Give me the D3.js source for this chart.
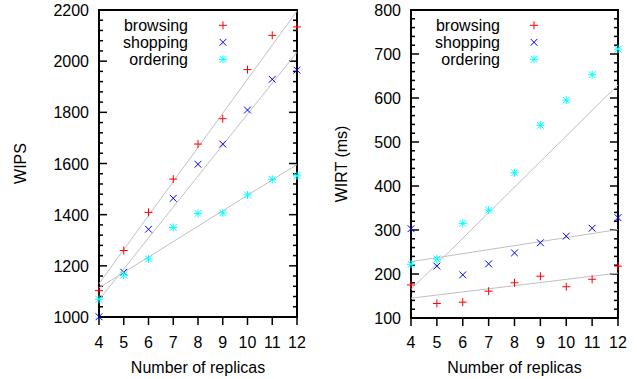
<!DOCTYPE html>
<html>
<head>
<meta charset="utf-8">
<script src="https://cdn.jsdelivr.net/npm/d3@7"></script>
<style>
  body { margin: 0; background: #fff; }
  svg text { font-family: "Liberation Sans", Arial, sans-serif; font-size: 16px; fill: #000; }
</style>
</head>
<body>
<svg id="chart" width="637" height="379"></svg>
<script>
// x values
const replicas = [4, 5, 6, 7, 8, 9, 10, 11, 12];
const seriesNames = ["browsing", "shopping", "ordering"];

// WIPS panel
const wipsBrowsing = [1103, 1260, 1409, 1539, 1676, 1775, 1967, 2101, 2134];
const wipsShopping = [1001, 1175, 1343, 1464, 1597, 1676, 1809, 1929, 1965];
const wipsOrdering = [1069, 1164, 1227, 1350, 1405, 1407, 1477, 1538, 1552];
// fit lines, value at 4 and at 12 replicas (browsing, shopping, ordering)
const wipsFitAt4 = [1130, 1067, 1114];
const wipsFitAt12 = [2196, 2035, 1596];
const wipsTicks = [1000, 1200, 1400, 1600, 1800, 2000, 2200];

// WIRT panel
const wirtBrowsing = [175, 133, 136, 161, 180, 195, 171, 188, 218];
const wirtShopping = [303, 218, 198, 223, 248, 271, 286, 304, 328];
const wirtOrdering = [222, 234, 315, 345, 430, 538, 595, 653, 711];
const wirtFitAt4 = [145, 228, 165];
const wirtFitAt12 = [202, 301, 630];
const wirtTicks = [100, 200, 300, 400, 500, 600, 700, 800];

const colors = ["#ff0000", "#0000ff", "#00ffff"];
const svg = d3.select("#chart");

// marker shapes: + , x , *
function markerPath(type, s) {
  const plus = `M${-s},0H${s}M0,${-s}V${s}`;
  const d = s * 0.85;
  const cross = `M${-d},${-d}L${d},${d}M${-d},${d}L${d},${-d}`;
  if (type === 0) return plus;
  if (type === 1) return cross;
  return plus + cross;
}

function drawPanel(opt) {
  const g = svg.append("g");
  const x = d3.scaleLinear().domain([4, 12]).range([opt.left, opt.right]);
  const y = d3.scaleLinear().domain(opt.domain).range([opt.bottom, opt.top]);

  // y minor ticks (inward, both sides)
  const minor = d3.range(opt.domain[0], opt.domain[1] + 0.01, opt.minorStep);
  minor.forEach(v => {
    const major = opt.ticks.includes(v);
    const len = major ? 8 : 4;
    g.append("line").attr("x1", opt.left).attr("x2", opt.left + len)
      .attr("y1", y(v)).attr("y2", y(v)).attr("stroke", "#000").attr("stroke-width", 1.5);
    g.append("line").attr("x1", opt.right).attr("x2", opt.right - len)
      .attr("y1", y(v)).attr("y2", y(v)).attr("stroke", "#000").attr("stroke-width", 1.5);
  });

  // y tick labels
  g.selectAll(".ylab").data(opt.ticks).join("text")
    .attr("x", opt.left - 10).attr("y", d => y(d) + 6)
    .attr("text-anchor", "end").text(d => d);

  // x ticks, outward below the axis
  g.selectAll(".xtick").data(replicas).join("line")
    .attr("x1", d => x(d)).attr("x2", d => x(d))
    .attr("y1", opt.bottom).attr("y2", opt.bottom + 8)
    .attr("stroke", "#000").attr("stroke-width", 1.5);
  g.selectAll(".xlab").data(replicas).join("text")
    .attr("x", d => x(d)).attr("y", 348)
    .attr("text-anchor", "middle").text(d => d);

  // frame
  g.append("rect").attr("x", opt.left).attr("y", opt.top)
    .attr("width", opt.right - opt.left).attr("height", opt.bottom - opt.top)
    .attr("fill", "none").attr("stroke", "#000").attr("stroke-width", 2);

  // titles
  g.append("text").attr("x", (opt.left + opt.right) / 2).attr("y", 373)
    .attr("text-anchor", "middle").text("Number of replicas");
  g.append("text")
    .attr("transform", `translate(${opt.titleX},${(opt.top + opt.bottom) / 2}) rotate(-90)`)
    .attr("text-anchor", "middle").text(opt.title);

  // fit lines
  opt.fitAt4.forEach((v, i) => {
    g.append("line")
      .attr("x1", x(4)).attr("y1", y(v))
      .attr("x2", x(12)).attr("y2", y(opt.fitAt12[i]))
      .attr("stroke", "#c0c0c0").attr("stroke-width", 1);
  });

  // points
  opt.series.forEach((vals, i) => {
    g.selectAll(".pt" + i).data(vals).join("path")
      .attr("transform", (d, j) => `translate(${x(replicas[j])},${y(d)})`)
      .attr("d", markerPath(i, 4))
      .attr("fill", "none").attr("stroke", colors[i]).attr("stroke-width", 1);
  });

  // legend
  seriesNames.forEach((name, i) => {
    const cy = 25.3 + i * 17;
    g.append("text").attr("x", opt.legendTextX).attr("y", cy + 5.5)
      .attr("text-anchor", "end").text(name);
    g.append("path").attr("transform", `translate(${opt.legendMarkX},${cy})`)
      .attr("d", markerPath(i, 4))
      .attr("fill", "none").attr("stroke", colors[i]).attr("stroke-width", 1);
  });
}

drawPanel({
  left: 99, right: 297, top: 10, bottom: 317,
  domain: [1000, 2200], ticks: wipsTicks, minorStep: 40,
  series: [wipsBrowsing, wipsShopping, wipsOrdering],
  fitAt4: wipsFitAt4, fitAt12: wipsFitAt12,
  title: "WIPS", titleX: 26,
  legendTextX: 188, legendMarkX: 223
});

drawPanel({
  left: 411, right: 618, top: 10, bottom: 318,
  domain: [100, 800], ticks: wirtTicks, minorStep: 20,
  series: [wirtBrowsing, wirtShopping, wirtOrdering],
  fitAt4: wirtFitAt4, fitAt12: wirtFitAt12,
  title: "WIRT (ms)", titleX: 347,
  legendTextX: 500, legendMarkX: 534
});
</script>
</body>
</html>
